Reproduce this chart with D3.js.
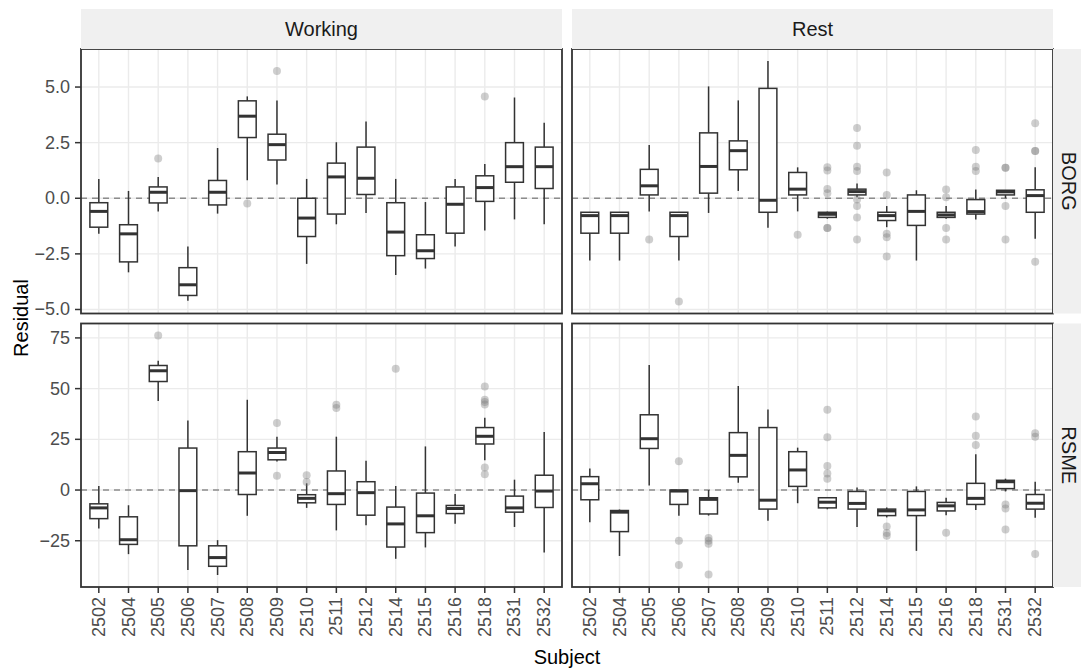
<!DOCTYPE html>
<html>
<head>
<meta charset="utf-8">
<script src="https://cdn.jsdelivr.net/npm/d3@7"></script>
<style>
  body { margin: 0; background: #fff; }
  svg { display: block; }
  text { font-family: "Liberation Sans", Arial, sans-serif; }
</style>
</head>
<body>
<svg id="chart" width="1081" height="668"></svg>
<script>
// ---- data -------------------------------------------------------------
const subjects = ["2502","2504","2505","2506","2507","2508","2509","2510",
                  "2511","2512","2514","2515","2516","2518","2531","2532"];
const conditions = ["Working", "Rest"];
const measures = ["BORG", "RSME"];

// Box summaries per subject: [lower whisker, Q1, median, Q3, upper whisker]
const borgWorking = [
  [-1.60,-1.30,-0.59,-0.20,0.87], [-3.33,-2.86,-1.60,-1.19,0.33], [-0.60,-0.21,0.27,0.51,0.96],
  [-4.61,-4.37,-3.89,-3.12,-2.17], [-0.69,-0.30,0.27,0.80,2.26], [0.81,2.73,3.69,4.38,4.58],
  [0.62,1.72,2.41,2.88,4.40], [-2.95,-1.72,-0.89,0.00,0.87], [-1.17,-0.71,0.96,1.58,2.52],
  [-0.66,0.17,0.90,2.30,3.45], [-3.45,-2.58,-1.52,-0.20,0.87], [-3.16,-2.71,-2.36,-1.64,-0.17],
  [-2.17,-1.57,-0.27,0.51,0.87], [-1.45,-0.14,0.48,1.01,1.54], [-0.95,0.72,1.42,2.50,4.53],
  [-1.17,0.44,1.42,2.30,3.39]
];
const borgWorkingOutliers = [[],[],[1.79],[],[],[-0.23],[5.72],[],[],[],[],[],[],[4.58],[],[]];

const borgRest = [
  [-2.80,-1.57,-0.78,-0.63,-0.63], [-2.80,-1.57,-0.78,-0.63,-0.63], [-0.59,0.15,0.56,1.30,2.39],
  [-2.80,-1.72,-0.78,-0.63,-0.63], [-0.66,0.23,1.43,2.94,5.03], [0.33,1.28,2.14,2.58,4.40],
  [-1.33,-0.63,-0.09,4.94,6.17], [-0.59,0.15,0.41,1.16,1.39], [-0.92,-0.86,-0.72,-0.63,-0.60],
  [0.05,0.15,0.30,0.41,0.66], [-1.30,-1.00,-0.78,-0.63,-0.35], [-2.80,-1.22,-0.59,0.15,0.36],
  [-0.92,-0.86,-0.75,-0.63,-0.35], [-0.95,-0.71,-0.60,-0.06,0.39], [0.00,0.15,0.29,0.36,0.36],
  [-1.82,-0.63,0.12,0.38,1.39]
];
const borgRestOutliers = [
  [], [], [-1.85], [-4.64], [], [], [], [-1.64],
  [1.40,1.25,0.42,0.22,-1.34,-1.34],
  [3.16,2.36,1.42,1.23,-0.05,-0.35,-0.86,-1.85],
  [1.16,0.15,-1.60,-1.75,-2.62],
  [],
  [0.39,0.05,-1.34,-1.85],
  [2.17,1.42,1.23],
  [1.37,1.37,-0.35,-1.85],
  [3.37,2.12,2.12,-2.85]
];

const rsmeWorking = [
  [-19.0,-14.1,-8.8,-6.8,2.0], [-31.6,-26.8,-24.5,-13.2,-7.5], [43.9,53.5,58.8,61.4,63.7],
  [-39.4,-27.5,-0.3,20.7,34.3], [-41.9,-37.6,-33.3,-27.5,-24.7], [-12.7,-2.2,8.4,18.9,44.5],
  [14.1,14.9,18.5,20.7,26.3], [-8.8,-6.3,-4.1,-2.3,3.3], [-19.9,-7.1,-1.8,9.4,26.3],
  [-17.4,-12.4,-1.3,4.1,14.4], [-33.9,-28.1,-16.7,-8.4,2.0], [-28.3,-21.0,-12.7,-1.5,21.5],
  [-16.6,-11.6,-9.1,-7.6,-2.0], [14.7,22.7,26.5,30.8,35.6], [-18.2,-10.9,-8.8,-3.0,5.1],
  [-30.8,-8.6,-0.5,7.3,28.6]
];
const rsmeWorkingOutliers = [
  [], [], [76.2], [], [], [], [33.1,7.1], [7.3,4.0], [42.1,40.4], [], [59.8], [], [],
  [51.0,44.5,43.4,42.2,11.1,7.8], [], []
];

const rsmeRest = [
  [-15.9,-4.8,3.1,6.6,10.6], [-32.5,-20.5,-10.9,-10.1,-9.6], [2.2,20.5,25.3,37.1,61.6],
  [-12.7,-7.1,-0.5,0.0,0.0], [-12.6,-11.8,-4.6,-3.8,0.0], [3.6,6.5,17.1,28.3,51.3],
  [-15.1,-9.4,-5.0,30.8,39.7], [-6.5,1.8,9.9,18.9,20.9], [-9.5,-8.8,-6.0,-3.8,-3.5],
  [-18.2,-9.4,-6.6,-0.7,1.2], [-13.5,-12.6,-10.3,-9.4,-8.6], [-30.0,-12.6,-9.8,-0.7,1.8],
  [-12.4,-10.3,-7.8,-6.1,-3.8], [-9.8,-7.1,-4.1,3.3,17.7], [-0.7,0.7,4.1,4.8,5.6],
  [-13.7,-9.4,-6.5,-2.2,4.1]
];
const rsmeRestOutliers = [
  [], [], [], [14.2,-25.0,-36.9], [-23.7,-25.0,-26.5,-41.6], [], [], [],
  [39.6,26.0,11.9,8.1,5.6], [], [-18.0,-21.2,-22.5], [], [-21.0], [36.3,26.8,22.2],
  [-7.1,-9.1,-19.5], [28.0,26.3,-31.5]
];

const borgTicks = [-5, -2.5, 0, 2.5, 5];
const rsmeTicks = [-25, 0, 25, 50, 75];

// ---- layout -----------------------------------------------------------
const W = 1081, H = 668;
const colX = [[81, 562], [572, 1053]];
const rowY = [[49, 313.5], [323.5, 587]];
const stripTop = 9;
const stripRight = 1081;

const panelData = {
  BORG: { Working: [borgWorking, borgWorkingOutliers], Rest: [borgRest, borgRestOutliers], ticks: borgTicks, fmt: d3.format(".1f") },
  RSME: { Working: [rsmeWorking, rsmeWorkingOutliers], Rest: [rsmeRest, rsmeRestOutliers], ticks: rsmeTicks, fmt: d3.format("d") }
};

const svg = d3.select("#chart");
svg.append("rect").attr("width", W).attr("height", H).attr("fill", "#fff");

const tickColor = "#4d4d4d";
const border = "#333333";
const gridColor = "#ebebeb";

// shared y-range per measure (free across rows, fixed within a row)
function yDomain(measure) {
  const vals = [];
  conditions.forEach(c => {
    const [boxes, outs] = panelData[measure][c];
    boxes.forEach(b => vals.push(b[0], b[4]));
    outs.forEach(o => o.forEach(v => vals.push(v)));
  });
  const [lo, hi] = d3.extent(vals);
  const pad = (hi - lo) * 0.05;
  return [lo - pad, hi + pad];
}

measures.forEach((m, ri) => {
  const [y0, y1] = rowY[ri];
  const y = d3.scaleLinear().domain(yDomain(m)).range([y1, y0]);
  const ticks = panelData[m].ticks;

  conditions.forEach((c, ci) => {
    const [x0, x1] = colX[ci];
    const x = d3.scalePoint().domain(subjects).range([x0, x1]).padding(0.6);
    const step = x.step();
    const boxW = step * 0.6;
    const [boxes, outs] = panelData[m][c];
    const g = svg.append("g");

    // grid
    g.selectAll("line.hgrid").data(ticks).join("line")
      .attr("x1", x0).attr("x2", x1)
      .attr("y1", d => y(d)).attr("y2", d => y(d))
      .attr("stroke", gridColor).attr("stroke-width", 1.4);
    g.selectAll("line.vgrid").data(subjects).join("line")
      .attr("x1", d => x(d)).attr("x2", d => x(d))
      .attr("y1", y0).attr("y2", y1)
      .attr("stroke", gridColor).attr("stroke-width", 1.4);

    // zero reference
    g.append("line")
      .attr("x1", x0).attr("x2", x1).attr("y1", y(0)).attr("y2", y(0))
      .attr("stroke", "#8c8c8c").attr("stroke-width", 1.4)
      .attr("stroke-dasharray", "6,5");

    // whiskers
    const bx = g.selectAll("g.box").data(boxes).join("g");
    bx.append("line")
      .attr("x1", (d, i) => x(subjects[i])).attr("x2", (d, i) => x(subjects[i]))
      .attr("y1", d => y(d[0])).attr("y2", d => y(d[1]))
      .attr("stroke", border).attr("stroke-width", 1.5);
    bx.append("line")
      .attr("x1", (d, i) => x(subjects[i])).attr("x2", (d, i) => x(subjects[i]))
      .attr("y1", d => y(d[3])).attr("y2", d => y(d[4]))
      .attr("stroke", border).attr("stroke-width", 1.5);
    // box
    bx.append("rect")
      .attr("x", (d, i) => x(subjects[i]) - boxW / 2)
      .attr("width", boxW)
      .attr("y", d => y(d[3]))
      .attr("height", d => Math.max(0, y(d[1]) - y(d[3])))
      .attr("fill", "#fff").attr("stroke", border).attr("stroke-width", 1.5);
    // median
    bx.append("line")
      .attr("x1", (d, i) => x(subjects[i]) - boxW / 2)
      .attr("x2", (d, i) => x(subjects[i]) + boxW / 2)
      .attr("y1", d => y(d[2])).attr("y2", d => y(d[2]))
      .attr("stroke", border).attr("stroke-width", 3);

    // outliers
    const pts = [];
    outs.forEach((o, i) => o.forEach(v => pts.push([subjects[i], v])));
    g.selectAll("circle").data(pts).join("circle")
      .attr("cx", d => x(d[0])).attr("cy", d => y(d[1]))
      .attr("r", 4)
      .attr("fill", "#7f7f7f").attr("fill-opacity", 0.38);

    // panel border
    g.append("rect")
      .attr("x", x0).attr("y", y0).attr("width", x1 - x0).attr("height", y1 - y0)
      .attr("fill", "none").attr("stroke", border).attr("stroke-width", 1.8);

    // y axis on the left column
    if (ci === 0) {
      const ay = g.append("g");
      ay.selectAll("line").data(ticks).join("line")
        .attr("x1", x0 - 6).attr("x2", x0)
        .attr("y1", d => y(d)).attr("y2", d => y(d))
        .attr("stroke", border).attr("stroke-width", 1.5);
      ay.selectAll("text").data(ticks).join("text")
        .attr("x", x0 - 11).attr("y", d => y(d))
        .attr("text-anchor", "end").attr("dominant-baseline", "central")
        .attr("font-size", 18).attr("fill", tickColor)
        .text(d => panelData[m].fmt(d));
    }
    // x axis on the bottom row
    if (ri === measures.length - 1) {
      const ax = g.append("g");
      ax.selectAll("line").data(subjects).join("line")
        .attr("x1", d => x(d)).attr("x2", d => x(d))
        .attr("y1", y1).attr("y2", y1 + 6)
        .attr("stroke", border).attr("stroke-width", 1.5);
      ax.selectAll("text").data(subjects).join("text")
        .attr("transform", d => `translate(${x(d)},${y1 + 10}) rotate(-90)`)
        .attr("text-anchor", "end").attr("dominant-baseline", "central")
        .attr("font-size", 18).attr("fill", tickColor)
        .text(d => d);
    }
    // column strips
    if (ri === 0) {
      svg.append("rect")
        .attr("x", x0).attr("y", stripTop).attr("width", x1 - x0).attr("height", y0 - stripTop)
        .attr("fill", "#f0f0f0");
      svg.append("text")
        .attr("x", (x0 + x1) / 2).attr("y", (stripTop + y0) / 2)
        .attr("text-anchor", "middle").attr("dominant-baseline", "central")
        .attr("font-size", 20).attr("fill", "#1a1a1a")
        .text(c);
    }
  });

  // row strip
  const sx0 = colX[1][1];
  svg.append("rect")
    .attr("x", sx0).attr("y", y0).attr("width", stripRight - sx0).attr("height", y1 - y0)
    .attr("fill", "#f0f0f0");
  svg.append("text")
    .attr("transform", `translate(1069,${(y0 + y1) / 2}) rotate(90)`)
    .attr("text-anchor", "middle").attr("dominant-baseline", "central")
    .attr("font-size", 20).attr("fill", "#1a1a1a")
    .text(m);
});

// axis titles
svg.append("text")
  .attr("x", (colX[0][0] + colX[1][1]) / 2).attr("y", 664)
  .attr("text-anchor", "middle").attr("font-size", 20).attr("fill", "#000")
  .text("Subject");
svg.append("text")
  .attr("transform", `translate(21,${(rowY[0][0] + rowY[1][1]) / 2}) rotate(-90)`)
  .attr("text-anchor", "middle").attr("dominant-baseline", "central")
  .attr("font-size", 20).attr("fill", "#000")
  .text("Residual");
</script>
</body>
</html>
